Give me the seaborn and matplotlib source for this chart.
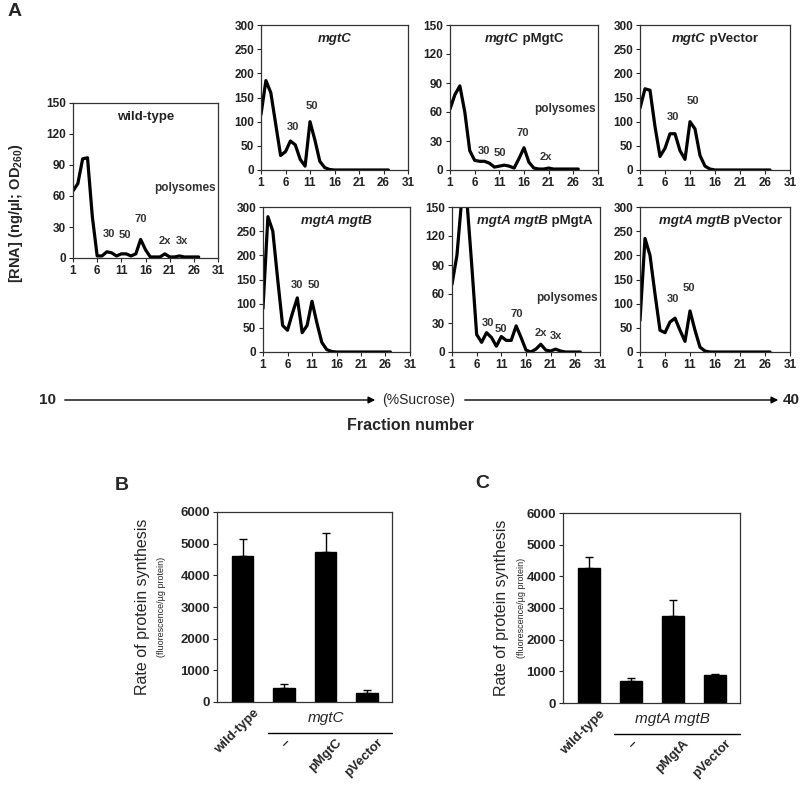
import matplotlib
matplotlib.use("Agg")
import matplotlib.pyplot as plt
import matplotlib.transforms as mtransforms
from matplotlib.offsetbox import TextArea, HPacker, AnchoredOffsetbox
import pandas as pd
import seaborn as sns

sns.set_style("white")
plt.rcParams["font.family"] = ["Liberation Sans", "DejaVu Sans"]
plt.rcParams["mathtext.fontset"] = "custom"
plt.rcParams["mathtext.rm"] = "Liberation Sans"
plt.rcParams["mathtext.bf"] = "Liberation Sans:bold"

# Panel A: RNA profiles per sucrose gradient fraction
fractions = list(range(1, 28))
wild_type = [65, 72, 96, 97, 40, 2, 2, 6, 5, 2, 4, 4, 2, 4, 18, 8, 1, 1, 1, 4, 1, 1, 2, 1, 1, 1, 1]
mgtC = [115, 185, 160, 95, 30, 38, 60, 52, 22, 8, 100, 62, 18, 5, 1, 0, 0, 0, 0, 0, 0, 0, 0, 0, 0, 0, 0]
mgtC_pMgtC = [63, 78, 87, 60, 20, 10, 9, 9, 7, 3, 4, 5, 4, 2, 12, 23, 8, 2, 1, 1, 2, 1, 1, 1, 1, 1, 1]
mgtC_pVector = [128, 168, 165, 90, 28, 45, 75, 75, 40, 22, 100, 85, 30, 8, 2, 0, 0, 0, 0, 0, 0, 0, 0, 0, 0, 0, 0]
mgtAB = [90, 280, 250, 150, 55, 45, 80, 112, 40, 55, 105, 60, 20, 5, 1, 0, 0, 0, 0, 0, 0, 0, 0, 0, 0, 0, 0]
mgtAB_pMgtA = [70, 100, 160, 158, 90, 18, 10, 20, 15, 6, 16, 12, 12, 27, 15, 2, 0, 3, 8, 2, 1, 3, 1, 0, 0, 0, 0]
mgtAB_pVector = [65, 235, 200, 120, 45, 40, 62, 70, 45, 22, 85, 45, 10, 2, 0, 0, 0, 0, 0, 0, 0, 0, 0, 0, 0, 0, 0]

# Panels B and C: protein synthesis rates
strains_B = ["wild-type", "–", "pMgtC", "pVector"]
rate_B = [4600, 450, 4750, 300]
err_B = [550, 130, 600, 80]
strains_C = ["wild-type", "–", "pMgtA", "pVector"]
rate_C = [4250, 680, 2750, 870]
err_C = [370, 120, 500, 50]

W, H = 800, 792
fig = plt.figure(figsize=(8, 7.92), dpi=100)


def add_ax(x0, y0, x1, y1):
    return fig.add_axes([x0 / W, 1 - y1 / H, (x1 - x0) / W, (y1 - y0) / H])


# (title parts, values, ymax, box in pixels, title loc, peak labels, polysomes y)
panels = [
    ([("wild-type", "normal")], wild_type, 150, (73, 103, 218, 258), "upper center",
     [("30", 8.5, 18), ("50", 11.8, 17), ("70", 15, 33), ("2x", 20, 12), ("3x", 23.5, 12)], 62),
    ([("mgtC", "italic")], mgtC, 300, (261, 25, 408, 170), "upper center",
     [("30", 7.5, 78), ("50", 11.3, 122)], None),
    ([("mgtC", "italic"), (" pMgtC", "normal")], mgtC_pMgtC, 150, (450, 25, 598, 170), "upper center",
     [("30", 7.8, 15), ("50", 11.2, 12), ("70", 15.8, 33), ("2x", 20.5, 8)], 57),
    ([("mgtC", "italic"), (" pVector", "normal")], mgtC_pVector, 300, (640, 25, 790, 170), "upper center",
     [("30", 7.5, 100), ("50", 11.5, 132)], None),
    ([("mgtA mgtB", "italic")], mgtAB, 300, (263, 207, 410, 352), "upper center",
     [("30", 8, 128), ("50", 11.3, 128)], None),
    ([("mgtA mgtB", "italic"), (" pMgtA", "normal")], mgtAB_pMgtA, 150, (452, 207, 600, 352), "upper right",
     [("30", 8.2, 25), ("50", 11, 19), ("70", 14.2, 34), ("2x", 19, 14), ("3x", 22, 11)], 50),
    ([("mgtA mgtB", "italic"), (" pVector", "normal")], mgtAB_pVector, 300, (640, 207, 790, 352), "upper right",
     [("30", 7.5, 100), ("50", 10.7, 122)], None),
]

for title, vals, ymax, box, tloc, peaks, poly_y in panels:
    ax = add_ax(*box)
    sns.lineplot(x=fractions, y=vals, ax=ax, color="black", lw=2.3,
                 solid_joinstyle="round", solid_capstyle="round")
    ax.set_xlim(1, 31)
    ax.set_ylim(0, ymax)
    ax.set_xticks([1, 6, 11, 16, 21, 26, 31])
    if ymax == 150:
        ax.set_yticks([0, 30, 60, 90, 120, 150])
    else:
        ax.set_yticks([0, 50, 100, 150, 200, 250, 300])
    ax.tick_params(direction="out", length=3, width=0.8, labelsize=8.5, pad=2,
                   left=True, bottom=True)
    for lab in ax.get_xticklabels() + ax.get_yticklabels():
        lab.set_fontweight("bold")
        lab.set_color("#222222")
    for sp in ax.spines.values():
        sp.set_linewidth(0.9)
        sp.set_color("#333333")
    areas = [TextArea(t, textprops=dict(style=s, fontweight="bold", fontsize=9.5, color="#222222"))
             for t, s in title]
    box_t = AnchoredOffsetbox(loc=tloc, child=HPacker(children=areas, pad=0, sep=0),
                              frameon=False, pad=0.1, borderpad=0.45)
    ax.add_artist(box_t)
    for t, xx, yy in peaks:
        ax.text(xx, yy, t, ha="center", va="bottom", fontsize=8, fontweight="bold", color="#333333")
    if poly_y is not None:
        ax.text(30.5, poly_y, "polysomes", ha="right", va="bottom", fontsize=8.5,
                fontweight="bold", color="#333333")

fig.text(8 / W, 1 - 12 / H, "A", fontsize=14, fontweight="bold", va="center")
fig.text(16 / W, 1 - 213 / H, r"[RNA] (ng/µl; OD$_{\mathbf{260}}$)", rotation=90,
         ha="center", va="center", fontsize=10.5, fontweight="bold")

# sucrose gradient arrows
y_arr = 1 - 400 / H
fig.text(48 / W, y_arr, "10", ha="center", va="center", fontsize=11, fontweight="bold")
fig.text(419 / W, y_arr, "(%Sucrose)", ha="center", va="center", fontsize=10)
fig.text(791 / W, y_arr, "40", ha="center", va="center", fontsize=11, fontweight="bold")
for x0, x1 in [(62, 378), (462, 781)]:
    fig.add_artist(matplotlib.patches.FancyArrowPatch(
        (x0 / W, y_arr), (x1 / W, y_arr), transform=fig.transFigure,
        arrowstyle="-|>", mutation_scale=10, lw=1, color="black"))
fig.text(410 / W, 1 - 425 / H, "Fraction number", ha="center", va="center",
         fontsize=11.5, fontweight="bold")


def bar_panel(box, names, rates, errs, group, letter, letter_xy, label_x):
    ax = add_ax(*box)
    df = pd.DataFrame({"strain": names, "rate": rates})
    sns.barplot(data=df, x="strain", y="rate", ax=ax, color="black", width=0.52,
                saturation=1, edgecolor="black")
    ax.errorbar(range(len(names)), rates, yerr=[[0] * len(errs), errs], fmt="none",
                ecolor="black", elinewidth=1, capsize=3, capthick=1)
    ax.set_xlim(-0.62, 3.6)
    ax.set_ylim(0, 6000)
    ax.set_yticks(range(0, 6001, 1000))
    ax.set_xlabel("")
    ax.set_ylabel("")
    ax.tick_params(axis="y", direction="out", length=3, width=0.8, labelsize=9.5, left=True, pad=2)
    ax.tick_params(axis="x", length=0, labelsize=9.5, pad=2)
    for lab in ax.get_yticklabels():
        lab.set_fontweight("bold")
    ax.set_xticks(range(len(names)))
    ax.set_xticklabels(names, rotation=45, ha="right", rotation_mode="anchor",
                       fontweight="bold")
    for i, lab in enumerate(ax.get_xticklabels()):
        dy = -0.32 if i > 0 else -0.02
        dx = 0.1 if i != 1 else 0.0
        lab.set_transform(lab.get_transform() + mtransforms.ScaledTranslation(dx, dy, fig.dpi_scale_trans))
    for sp in ax.spines.values():
        sp.set_linewidth(0.9)
        sp.set_color("#333333")
    ax.text(2, -0.085, group, transform=ax.get_xaxis_transform(), ha="center", va="center",
            fontsize=11, style="italic")
    ax.plot([0.6, 3.6], [-0.165, -0.165], transform=ax.get_xaxis_transform(), color="black",
            lw=1, clip_on=False)
    fig.text(letter_xy[0] / W, 1 - letter_xy[1] / H, letter, fontsize=14, fontweight="bold", va="center")
    ycen = 1 - ((box[1] + box[3]) / 2) / H
    fig.text(label_x / W, ycen, "Rate of protein synthesis", rotation=90, ha="center",
             va="center", fontsize=11.5)
    fig.text((label_x + 19) / W, ycen, "(fluorescence/µg protein)", rotation=90, ha="center",
             va="center", fontsize=6.5)


bar_panel((217, 512, 392, 702), strains_B, rate_B, err_B, "mgtC", "B", (115, 485), 143)
bar_panel((563, 513, 740, 703), strains_C, rate_C, err_C, "mgtA mgtB", "C", (475, 483), 502)

fig.savefig("out.png", dpi=100)
